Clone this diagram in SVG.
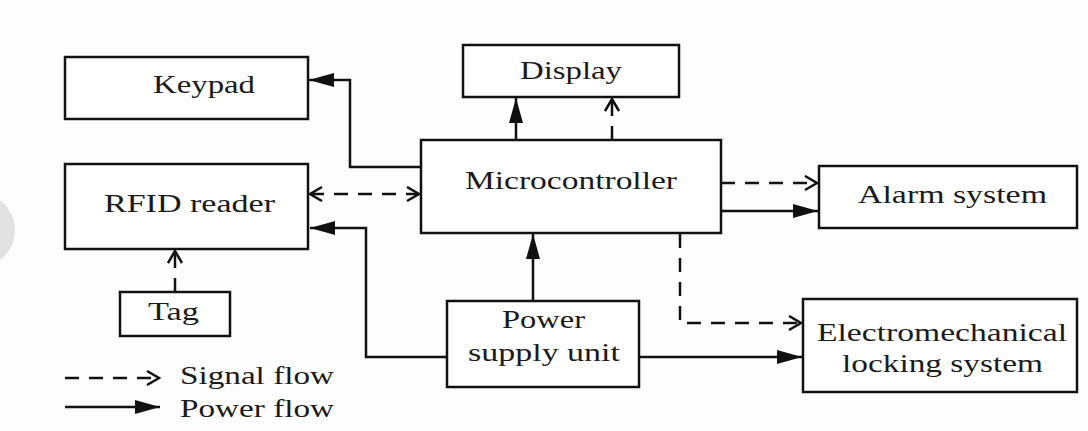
<svg xmlns="http://www.w3.org/2000/svg" width="1088" height="431" viewBox="0 0 1088 431">
<style>
.box{fill:#fff;stroke:#111;stroke-width:2.5}
.t{font-family:"Liberation Serif","Times New Roman",serif;font-size:25px;fill:#1a1a1a}
.p{fill:none;stroke:#111;stroke-width:2.5}
.d{fill:none;stroke:#111;stroke-width:2.5;stroke-dasharray:14 10}
</style>
<defs>
<marker id="fa" markerUnits="userSpaceOnUse" markerWidth="26" markerHeight="14" refX="25" refY="7" orient="auto"><path d="M0,0 L25,7 L0,14 z" fill="#111"/></marker>
<marker id="oa" markerUnits="userSpaceOnUse" markerWidth="16" markerHeight="18" refX="13" refY="8" orient="auto-start-reverse"><path d="M1,1 L13,8 L1,15" fill="none" stroke="#111" stroke-width="2.5" stroke-dasharray="none"/></marker>
</defs>
<rect width="1088" height="431" fill="#fdfdfd"/>
<circle cx="-22" cy="230" r="37" fill="#e2e2e2"/>
<g id="connectors">
<polyline class="p" points="421,167 350,167 350,80 309,80" marker-end="url(#fa)"/>
<line class="d" x1="310" y1="194" x2="419" y2="194" marker-start="url(#oa)" marker-end="url(#oa)"/>
<polyline class="p" points="447,357 366,357 366,228 310,228" marker-end="url(#fa)"/>
<line class="d" x1="175" y1="292" x2="175" y2="251" marker-end="url(#oa)"/>
<line class="p" x1="516" y1="140" x2="516" y2="98" marker-end="url(#fa)"/>
<line class="d" x1="612" y1="140" x2="612" y2="99" marker-end="url(#oa)"/>
<line class="d" x1="721" y1="183" x2="817" y2="183" marker-end="url(#oa)"/>
<line class="p" x1="721" y1="211" x2="818" y2="211" marker-end="url(#fa)"/>
<polyline class="d" points="680,234 680,323 801,323" marker-end="url(#oa)"/>
<line class="p" x1="639" y1="357" x2="802" y2="357" marker-end="url(#fa)"/>
<line class="p" x1="533" y1="301" x2="533" y2="234" marker-end="url(#fa)"/>
</g>
<g id="keypad"><rect class="box" x="65" y="57" width="243" height="62"/><text class="t" x="153" y="93" textLength="102" lengthAdjust="spacingAndGlyphs">Keypad</text></g>
<g id="rfid"><rect class="box" x="65" y="164" width="243" height="85"/><text class="t" x="104" y="212" textLength="171" lengthAdjust="spacingAndGlyphs">RFID reader</text></g>
<g id="tag"><rect class="box" x="120" y="292" width="110" height="44"/><text class="t" x="148" y="320" textLength="51" lengthAdjust="spacingAndGlyphs">Tag</text></g>
<g id="display"><rect class="box" x="463" y="45" width="216" height="52"/><text class="t" x="520" y="79" textLength="102" lengthAdjust="spacingAndGlyphs">Display</text></g>
<g id="microcontroller"><rect class="box" x="421" y="140" width="300" height="93"/><text class="t" x="465" y="189" textLength="212" lengthAdjust="spacingAndGlyphs">Microcontroller</text></g>
<g id="alarm"><rect class="box" x="819" y="166" width="258" height="62"/><text class="t" x="858" y="203" textLength="189" lengthAdjust="spacingAndGlyphs">Alarm system</text></g>
<g id="lock"><rect class="box" x="803" y="299" width="274" height="93"/><text class="t" x="817" y="341" textLength="250" lengthAdjust="spacingAndGlyphs">Electromechanical</text><text class="t" x="842" y="372" textLength="201" lengthAdjust="spacingAndGlyphs">locking system</text></g>
<g id="psu"><rect class="box" x="447" y="301" width="192" height="86"/><text class="t" x="502" y="328" textLength="83" lengthAdjust="spacingAndGlyphs">Power</text><text class="t" x="468" y="361" textLength="152" lengthAdjust="spacingAndGlyphs">supply unit</text></g>
<g id="legend">
<line class="d" x1="65" y1="378" x2="159" y2="378" stroke-dasharray="15 17" marker-end="url(#oa)"/>
<text class="t" x="180" y="384" textLength="154" lengthAdjust="spacingAndGlyphs">Signal flow</text>
<line class="p" x1="65" y1="407" x2="160" y2="407" marker-end="url(#fa)"/>
<text class="t" x="180" y="417" textLength="154" lengthAdjust="spacingAndGlyphs">Power flow</text>
</g>
</svg>
